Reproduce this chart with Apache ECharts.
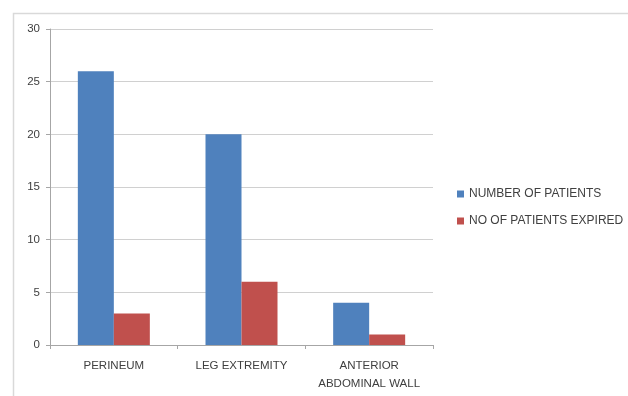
<!DOCTYPE html>
<html>
<head>
<meta charset="utf-8">
<script src="https://cdn.jsdelivr.net/npm/echarts@6/dist/echarts.min.js"></script>
<style>
  html, body { margin: 0; padding: 0; background: #fff; }
  #chart { width: 628px; height: 396px; }
</style>
</head>
<body>
<div id="chart"></div>
<script>
// Sites of involvement and outcome counts
const categories = ['PERINEUM', 'LEG EXTREMITY', 'ANTERIOR\nABDOMINAL WALL'];
const seriesNames = ['NUMBER OF PATIENTS', 'NO OF PATIENTS EXPIRED'];
const patients = [26, 20, 4];
const expired = [3, 6, 1];
const yTicks = [0, 5, 10, 15, 20, 25, 30];

const chart = echarts.init(document.getElementById('chart'));
const font = 'Liberation Sans, Arial, sans-serif';

chart.setOption({
  animation: false,
  backgroundColor: '#ffffff',
  graphic: [{
    type: 'rect',
    shape: { x: 13.5, y: 13.5, width: 640, height: 400 },
    style: { fill: 'none', stroke: '#d9d9d9', lineWidth: 1.5 },
    silent: true
  }],
  grid: { left: 50, top: 29, width: 383, height: 316, containLabel: false },
  legend: {
    orient: 'vertical',
    left: 452,
    top: 183,
    itemWidth: 7,
    itemHeight: 7,
    itemGap: 15,
    icon: 'rect',
    textStyle: { fontFamily: font, fontSize: 12, color: '#404040' },
    data: seriesNames
  },
  xAxis: {
    type: 'category',
    data: categories,
    axisLine: { lineStyle: { color: '#a6a6a6' } },
    axisTick: { show: true, interval: 0, length: 4, lineStyle: { color: '#a6a6a6' } },
    axisLabel: {
      interval: 0, hideOverlap: false,
      fontFamily: font, fontSize: 11.5, color: '#404040', margin: 12, lineHeight: 18
    }
  },
  yAxis: {
    type: 'value',
    min: yTicks[0],
    max: yTicks[yTicks.length - 1],
    interval: 5,
    axisLine: { show: true, lineStyle: { color: '#a6a6a6' } },
    axisTick: { show: true, length: 4, lineStyle: { color: '#a6a6a6' } },
    axisLabel: { fontFamily: font, fontSize: 11.5, color: '#404040', margin: 10 },
    splitLine: { lineStyle: { color: '#d0d0d0' } }
  },
  series: [
    {
      name: seriesNames[0], type: 'bar', data: patients,
      barWidth: 36, barGap: '0%',
      itemStyle: { color: '#4F81BD' }
    },
    {
      name: seriesNames[1], type: 'bar', data: expired,
      barWidth: 36, barGap: '0%',
      itemStyle: { color: '#C0504D' }
    }
  ]
});
</script>
</body>
</html>
